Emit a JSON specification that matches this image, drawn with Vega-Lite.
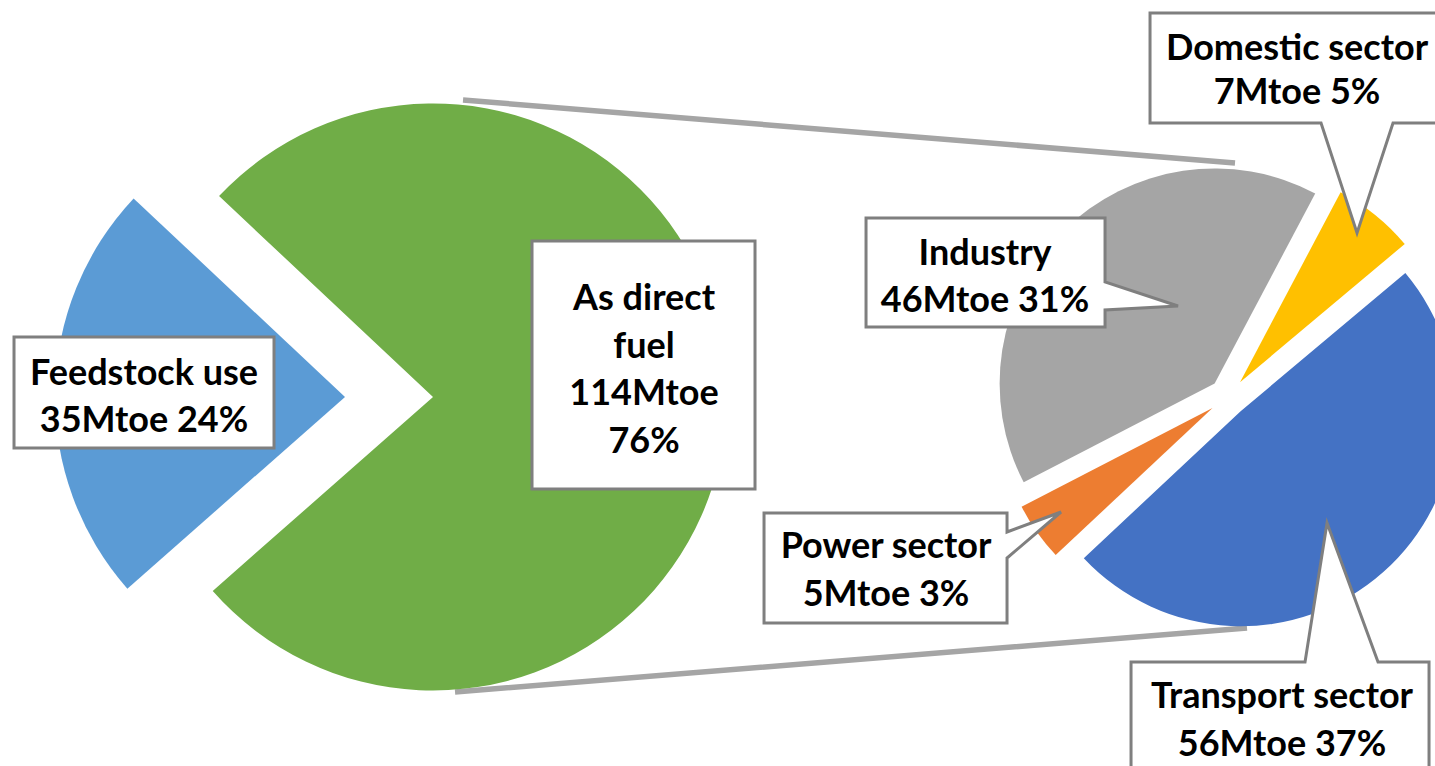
{
  "$schema": "https://vega.github.io/schema/vega-lite/v6.json",
  "width": 1435,
  "height": 738,
  "autosize": "none",
  "padding": {"top": 28, "left": 0, "right": 0, "bottom": 0},
  "background": "white",
  "config": {"view": {"stroke": null}},
  "datasets": {
    "use": [
      {"pie": "Use", "category": "As direct fuel", "mtoe": 114, "pct": 76, "order": 1, "label": "As direct\nfuel\n114Mtoe\n76%"},
      {"pie": "Use", "category": "Feedstock use", "mtoe": 35, "pct": 24, "order": 2, "label": "Feedstock use\n35Mtoe 24%"}
    ],
    "sector": [
      {"pie": "Sector", "category": "Transport sector", "mtoe": 56, "pct": 37, "order": 1, "label": "Transport sector\n56Mtoe 37%"},
      {"pie": "Sector", "category": "Power sector", "mtoe": 5, "pct": 3, "order": 2, "label": "Power sector\n5Mtoe 3%"},
      {"pie": "Sector", "category": "Industry", "mtoe": 46, "pct": 31, "order": 3, "label": "Industry\n46Mtoe 31%"},
      {"pie": "Sector", "category": "Domestic sector", "mtoe": 7, "pct": 5, "order": 4, "label": "Domestic sector\n7Mtoe 5%"}
    ]
  },
  "encoding": {
    "x": {"field": "pie", "type": "nominal", "axis": null, "scale": {"type": "point", "domain": ["Use", "Sector"], "padding": 0.4025, "align": 0.6766}}
  },
  "layer": [
    {
      "data": {"name": "use"},
      "transform": [{"filter": {"field": "category", "equal": "As direct fuel"}}],
      "mark": {"type": "point", "shape": "M30,-297L802,-234M22,295L814,231", "size": 4, "filled": false, "stroke": "#A5A5A5", "strokeWidth": 5.5, "opacity": 1}
    },
    {
      "data": {"name": "use"},
      "transform": [
        {"stack": "mtoe", "groupby": [], "sort": [{"field": "order", "order": "ascending"}], "offset": "normalize", "as": ["t0", "t1"]},
        {"filter": {"field": "category", "equal": "As direct fuel"}}
      ],
      "mark": {"type": "arc", "outerRadius": 293.5},
      "encoding": {
        "theta": {"field": "t0", "type": "quantitative", "scale": {"domain": [0, 1], "range": [-0.8168, 5.4664]}},
        "theta2": {"field": "t1"},
        "color": {"field": "category", "type": "nominal", "legend": null, "scale": {"domain": ["As direct fuel", "Feedstock use", "Transport sector", "Power sector", "Industry", "Domestic sector"], "range": ["#70AD47", "#5B9BD5", "#4472C4", "#ED7D31", "#A5A5A5", "#FFC000"]}}
      }
    },
    {
      "data": {"name": "use"},
      "transform": [
        {"stack": "mtoe", "groupby": [], "sort": [{"field": "order", "order": "ascending"}], "offset": "normalize", "as": ["t0", "t1"]},
        {"filter": {"field": "category", "equal": "Feedstock use"}}
      ],
      "mark": {"type": "arc", "outerRadius": 290, "xOffset": -88},
      "encoding": {
        "theta": {"field": "t0", "type": "quantitative", "scale": {"domain": [0, 1], "range": [-0.8168, 5.4664]}},
        "theta2": {"field": "t1"},
        "color": {"field": "category", "type": "nominal", "legend": null}
      }
    },
    {
      "data": {"name": "sector"},
      "transform": [
        {"stack": "mtoe", "groupby": [], "sort": [{"field": "order", "order": "ascending"}], "offset": "normalize", "as": ["t0", "t1"]},
        {"filter": {"field": "category", "equal": "Transport sector"}}
      ],
      "mark": {"type": "arc", "outerRadius": 215, "xOffset": 12.6, "yOffset": 14.2},
      "encoding": {
        "theta": {"field": "t0", "type": "quantitative", "scale": {"domain": [0, 1], "range": [0.8727, 7.1559]}},
        "theta2": {"field": "t1"},
        "color": {"field": "category", "type": "nominal", "legend": null}
      }
    },
    {
      "data": {"name": "sector"},
      "transform": [
        {"stack": "mtoe", "groupby": [], "sort": [{"field": "order", "order": "ascending"}], "offset": "normalize", "as": ["t0", "t1"]},
        {"filter": {"field": "category", "equal": "Power sector"}}
      ],
      "mark": {"type": "arc", "outerRadius": 215, "xOffset": -15.5, "yOffset": 11},
      "encoding": {
        "theta": {"field": "t0", "type": "quantitative", "scale": {"domain": [0, 1], "range": [0.8727, 7.1559]}},
        "theta2": {"field": "t1"},
        "color": {"field": "category", "type": "nominal", "legend": null}
      }
    },
    {
      "data": {"name": "sector"},
      "transform": [
        {"stack": "mtoe", "groupby": [], "sort": [{"field": "order", "order": "ascending"}], "offset": "normalize", "as": ["t0", "t1"]},
        {"filter": {"field": "category", "equal": "Industry"}}
      ],
      "mark": {"type": "arc", "outerRadius": 215, "xOffset": -13.4, "yOffset": -13.5},
      "encoding": {
        "theta": {"field": "t0", "type": "quantitative", "scale": {"domain": [0, 1], "range": [0.8727, 7.1559]}},
        "theta2": {"field": "t1"},
        "color": {"field": "category", "type": "nominal", "legend": null}
      }
    },
    {
      "data": {"name": "sector"},
      "transform": [
        {"stack": "mtoe", "groupby": [], "sort": [{"field": "order", "order": "ascending"}], "offset": "normalize", "as": ["t0", "t1"]},
        {"filter": {"field": "category", "equal": "Domestic sector"}}
      ],
      "mark": {"type": "arc", "outerRadius": 215, "xOffset": 12, "yOffset": -14.8},
      "encoding": {
        "theta": {"field": "t0", "type": "quantitative", "scale": {"domain": [0, 1], "range": [0.8727, 7.1559]}},
        "theta2": {"field": "t1"},
        "color": {"field": "category", "type": "nominal", "legend": null}
      }
    },
    {
      "data": {"name": "use"},
      "transform": [{"filter": {"field": "category", "equal": "Feedstock use"}}],
      "mark": {"type": "point", "shape": "M-130,-55.5H130V55.5H-130Z", "size": 4, "filled": true, "fill": "white", "stroke": "#7F7F7F", "strokeWidth": 3, "opacity": 1, "xOffset": -289, "yOffset": -4.5}
    },
    {
      "data": {"name": "use"},
      "transform": [{"filter": {"field": "category", "equal": "Feedstock use"}}],
      "mark": {"type": "text", "font": "Lato", "fontSize": 36, "fontWeight": "bold", "lineBreak": "\n", "lineHeight": 47, "align": "center", "baseline": "middle", "color": "black", "xOffset": -289, "yOffset": -23},
      "encoding": {"text": {"field": "label"}}
    },
    {
      "data": {"name": "use"},
      "transform": [{"filter": {"field": "category", "equal": "As direct fuel"}}],
      "mark": {"type": "point", "shape": "M-111.5,-124H111.5V124H-111.5Z", "size": 4, "filled": true, "fill": "white", "stroke": "#7F7F7F", "strokeWidth": 3, "opacity": 1, "xOffset": 210.5, "yOffset": -32}
    },
    {
      "data": {"name": "use"},
      "transform": [{"filter": {"field": "category", "equal": "As direct fuel"}}],
      "mark": {"type": "text", "font": "Lato", "fontSize": 36, "fontWeight": "bold", "lineBreak": "\n", "lineHeight": 47.5, "align": "center", "baseline": "middle", "color": "black", "xOffset": 211, "yOffset": -98},
      "encoding": {"text": {"field": "label"}}
    },
    {
      "data": {"name": "sector"},
      "transform": [{"filter": {"field": "category", "equal": "Industry"}}],
      "mark": {"type": "point", "shape": "M-119.5,-54.5H119.5V9.5L192.5,33.5L119.5,37.5V54.5H-119.5Z", "size": 4, "filled": true, "fill": "white", "stroke": "#7F7F7F", "strokeWidth": 3, "opacity": 1, "xOffset": -242.5, "yOffset": -124.5}
    },
    {
      "data": {"name": "sector"},
      "transform": [{"filter": {"field": "category", "equal": "Industry"}}],
      "mark": {"type": "text", "font": "Lato", "fontSize": 36, "fontWeight": "bold", "lineBreak": "\n", "lineHeight": 47, "align": "center", "baseline": "middle", "color": "black", "xOffset": -243, "yOffset": -143},
      "encoding": {"text": {"field": "label"}}
    },
    {
      "data": {"name": "sector"},
      "transform": [{"filter": {"field": "category", "equal": "Domestic sector"}}],
      "mark": {"type": "point", "shape": "M-147,-55H165V55H96L60,165L24,55H-147Z", "size": 4, "filled": true, "fill": "white", "stroke": "#7F7F7F", "strokeWidth": 3, "opacity": 1, "xOffset": 69, "yOffset": -329}
    },
    {
      "data": {"name": "sector"},
      "transform": [{"filter": {"field": "category", "equal": "Domestic sector"}}],
      "mark": {"type": "text", "font": "Lato", "fontSize": 36, "fontWeight": "bold", "lineBreak": "\n", "lineHeight": 44, "align": "center", "baseline": "middle", "color": "black", "xOffset": 69, "yOffset": -348},
      "encoding": {"text": {"field": "label"}}
    },
    {
      "data": {"name": "sector"},
      "transform": [{"filter": {"field": "category", "equal": "Power sector"}}],
      "mark": {"type": "point", "shape": "M-121.5,-55H121.5V-36L175.5,-56L121.5,-10V55H-121.5Z", "size": 4, "filled": true, "fill": "white", "stroke": "#7F7F7F", "strokeWidth": 3, "opacity": 1, "xOffset": -342.5, "yOffset": 171}
    },
    {
      "data": {"name": "sector"},
      "transform": [{"filter": {"field": "category", "equal": "Power sector"}}],
      "mark": {"type": "text", "font": "Lato", "fontSize": 36, "fontWeight": "bold", "lineBreak": "\n", "lineHeight": 48, "align": "center", "baseline": "middle", "color": "black", "xOffset": -342, "yOffset": 150},
      "encoding": {"text": {"field": "label"}}
    },
    {
      "data": {"name": "sector"},
      "transform": [{"filter": {"field": "category", "equal": "Transport sector"}}],
      "mark": {"type": "point", "shape": "M-149,-55H25L47,-194L98,-55H149V65H-149Z", "size": 4, "filled": true, "fill": "white", "stroke": "#7F7F7F", "strokeWidth": 3, "opacity": 1, "xOffset": 52, "yOffset": 320}
    },
    {
      "data": {"name": "sector"},
      "transform": [{"filter": {"field": "category", "equal": "Transport sector"}}],
      "mark": {"type": "text", "font": "Lato", "fontSize": 36, "fontWeight": "bold", "lineBreak": "\n", "lineHeight": 48, "align": "center", "baseline": "middle", "color": "black", "xOffset": 54, "yOffset": 300},
      "encoding": {"text": {"field": "label"}}
    }
  ],
  "resolve": {"scale": {"theta": "independent"}}
}
